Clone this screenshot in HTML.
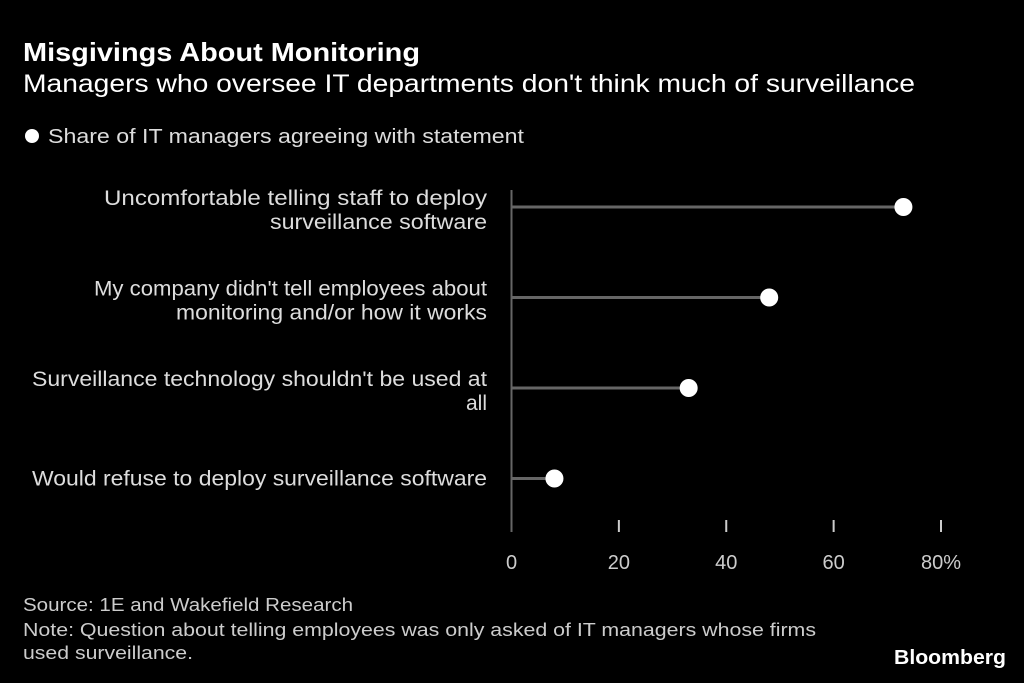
<!DOCTYPE html>
<html><head><meta charset="utf-8"><style>
html,body{margin:0;padding:0;background:#000;}
svg{display:block;font-family:"Liberation Sans",sans-serif;}
</style></head><body>
<svg id="chart" width="1024" height="683" viewBox="0 0 1024 683">
<rect width="1024" height="683" fill="#000"/>
<text x="23" y="61" fill="#fff" font-size="26" font-weight="bold" textLength="397" lengthAdjust="spacingAndGlyphs">Misgivings About Monitoring</text>
<text x="23" y="92" fill="#fff" font-size="25" textLength="892" lengthAdjust="spacingAndGlyphs">Managers who oversee IT departments don't think much of surveillance</text>
<circle cx="32" cy="136" r="7" fill="#fff"/>
<text x="48" y="143" fill="#ddd" font-size="20" textLength="476" lengthAdjust="spacingAndGlyphs">Share of IT managers agreeing with statement</text>
<g id="plot"></g>
<text x="23" y="611" fill="#ccc" font-size="18" textLength="330" lengthAdjust="spacingAndGlyphs">Source: 1E and Wakefield Research</text>
<text x="23" y="636" fill="#ccc" font-size="18" textLength="793" lengthAdjust="spacingAndGlyphs">Note: Question about telling employees was only asked of IT managers whose firms</text>
<text x="23" y="659" fill="#ccc" font-size="18" textLength="170" lengthAdjust="spacingAndGlyphs">used surveillance.</text>
<text x="1006" y="664" fill="#fff" font-size="20" font-weight="bold" text-anchor="end" textLength="112" lengthAdjust="spacingAndGlyphs">Bloomberg</text>
</svg>
<script>
const categories = [
  ["Uncomfortable telling staff to deploy","surveillance software"],
  ["My company didn't tell employees about","monitoring and/or how it works"],
  ["Surveillance technology shouldn't be used at","all"],
  ["Would refuse to deploy surveillance software"]
];
const values = [73, 48, 33, 8];
const tickValues = [0, 20, 40, 60, 80];
const tickLabels = ["0", "20", "40", "60", "80%"];

const NS = "http://www.w3.org/2000/svg";
const g = document.getElementById("plot");
const x0 = 511.5, pxPer = (941 - 511.5) / 80;
function xScale(v){ return x0 + v * pxPer; }
function yScale(i){ return 207 + i * 90.5; }
function mk(tag, attrs){ const e = document.createElementNS(NS, tag); for (const k in attrs) e.setAttribute(k, attrs[k]); g.appendChild(e); return e; }

const axis = mk("line", {x1:x0, x2:x0, y1:190, y2:532, stroke:"#666", "stroke-width":2});



tickValues.forEach((v, i) => {
  if (v !== 0) {
    const t = mk("line", {x1:xScale(v), x2:xScale(v), y1:520, y2:532, stroke:"#ccc", "stroke-width":2});
    
    
  }
  const lb = mk("text", {x:xScale(v), y:569, fill:"#ccc", "font-size":20, "text-anchor":"middle"});
  lb.textContent = tickLabels[i];
  
  
});

categories.forEach((lines, i) => {
  const y = yScale(i);
  const stem = mk("line", {x1:x0, x2:xScale(values[i]), y1:y, y2:y, stroke:"#666", "stroke-width":3});
  
  
  const dot = mk("circle", {cx:xScale(values[i]), cy:y, r:9, fill:"#fff"});
  
  
  const startY = lines.length === 1 ? y + 7 : y - 2;
  lines.forEach((ln, j) => {
    const t = mk("text", {x:487, y:startY + j * 24, fill:"#ddd", "font-size":21, "text-anchor":"end"});
    t.textContent = ln;
    if (ln.length > 10) {
      t.setAttribute('textLength', Math.round(ln.length * 10.35));
      t.setAttribute('lengthAdjust', 'spacingAndGlyphs');
    }
    
    
  });
});
</script>
</body></html>
